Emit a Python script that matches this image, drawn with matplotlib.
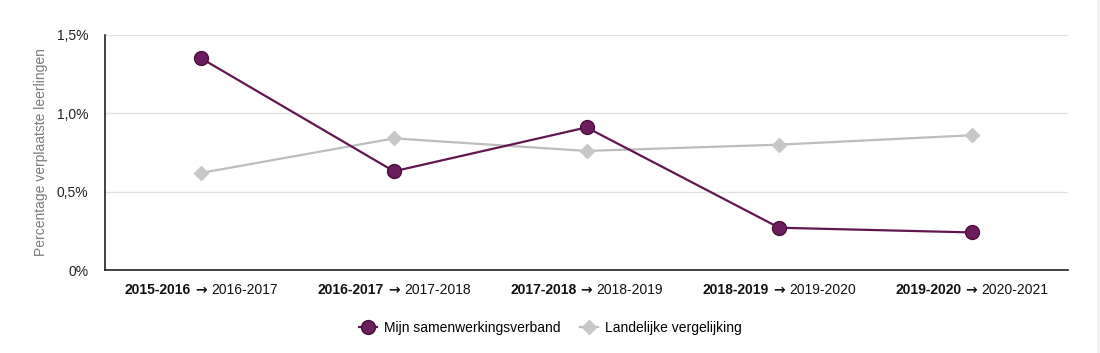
import matplotlib.pyplot as plt
from matplotlib.offsetbox import TextArea, HPacker, AnnotationBbox
from matplotlib.ticker import FuncFormatter

plt.rcParams['font.family'] = ['Liberation Sans', 'DejaVu Sans']

fromYears = ["2015-2016", "2016-2017", "2017-2018", "2018-2019", "2019-2020"]
toYears = ["2016-2017", "2017-2018", "2018-2019", "2019-2020", "2020-2021"]
mijnValues = [1.35, 0.63, 0.91, 0.27, 0.24]
landelijkValues = [0.62, 0.84, 0.76, 0.80, 0.86]

purple = "#62164f"
grey = "#bdbdbd"

fig = plt.figure(figsize=(11, 3.53), dpi=100)
ax = fig.add_axes([0.0955, 0.235, 0.8755, 0.666])

x = list(range(len(fromYears)))
ax.plot(x, mijnValues, color=purple, linewidth=1.6, marker="o", markersize=10,
        markerfacecolor="#6b1d5e", markeredgecolor="#4a0f3c", markeredgewidth=1,
        label="Mijn samenwerkingsverband", zorder=4)
ax.plot(x, landelijkValues, color=grey, linewidth=1.6, marker="D", markersize=7,
        markerfacecolor="#c8c8c8", markeredgecolor="#c8c8c8",
        label="Landelijke vergelijking", zorder=3)

ax.set_xlim(-0.5, 4.5)
ax.set_ylim(0, 1.5)
ax.set_yticks([0, 0.5, 1.0, 1.5])
ax.yaxis.set_major_formatter(FuncFormatter(
    lambda v, p: "0%" if v == 0 else ("%.1f%%" % v).replace(".", ",")))
ax.tick_params(axis="y", length=0, pad=12, labelsize=10, labelcolor="#222222")
ax.set_xticks(x)
ax.set_xticklabels([])
ax.tick_params(axis="x", length=0)
ax.grid(axis="y", color="#e2e2e2", linewidth=1)
ax.set_axisbelow(True)
for side in ["top", "right"]:
    ax.spines[side].set_visible(False)
ax.spines["left"].set_color("#222222")
ax.spines["bottom"].set_color("#222222")
ax.spines["left"].set_linewidth(1.2)
ax.spines["bottom"].set_linewidth(1.2)

ax.set_ylabel("Percentage verplaatste leerlingen", color="#7a7a7a", fontsize=10, labelpad=6)

# two-part category labels: bold start year, normal end year
for i in x:
    boldPart = TextArea(fromYears[i],
                        textprops=dict(fontsize=10, fontweight="bold", color="#111111"))
    arrowPart = TextArea("\u2192", textprops=dict(fontsize=10, fontweight="bold",
                                                 family="DejaVu Sans", color="#111111"))
    normalPart = TextArea(toYears[i], textprops=dict(fontsize=10, color="#111111"))
    box = HPacker(children=[boldPart, arrowPart, normalPart], align="baseline", pad=0, sep=3)
    ab = AnnotationBbox(box, (i, 0), xycoords=("data", "axes fraction"),
                        xybox=(0, -9), boxcoords="offset points",
                        box_alignment=(0.5, 1), frameon=False)
    ax.add_artist(ab)

ax.legend(loc="upper center", bbox_to_anchor=(0.462, -0.162), ncol=2, frameon=False,
          fontsize=10, handlelength=1.3, columnspacing=1.4, handletextpad=0.5)

fig.add_artist(plt.Line2D([0.998, 0.998], [0, 1], color="#f2eef2", linewidth=2))

fig.savefig("out.png", dpi=100)
